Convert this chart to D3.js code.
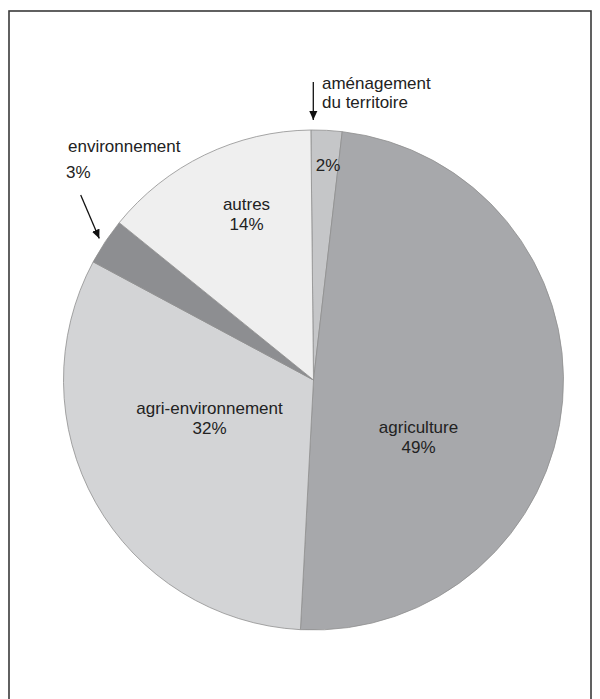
<!DOCTYPE html>
<html>
<head>
<meta charset="utf-8">
<script src="https://cdnjs.cloudflare.com/ajax/libs/d3/7.8.5/d3.min.js"></script>
<style>
  html, body { margin: 0; padding: 0; background: #fff; }
  svg { display: block; }
</style>
</head>
<body>
<div id="chart"></div>
<script>
// data, clockwise from 12 o'clock
var categories = ['aménagement du territoire', 'agriculture', 'agri-environnement', 'environnement', 'autres'];
var shares = [2, 49, 32, 3, 14];
var shareLabels = ['2%', '49%', '32%', '3%', '14%'];
var fills = ['#c5c6c8', '#a7a8ab', '#d3d4d6', '#8d8e91', '#efefef'];

var width = 600, height = 699;
var cx = 313.5, cy = 380, radius = 250;
var start = -0.6 * Math.PI / 180;

var svg = d3.select('#chart')
  .append('svg')
    .attr('width', width)
    .attr('height', height)
    .attr('font-family', '"Liberation Sans", Arial, Helvetica, sans-serif')
    .attr('font-size', 17)
    .attr('fill', '#222');

// frame, open at the bottom like the scan
svg.append('rect')
  .attr('x', 9).attr('y', 11)
  .attr('width', 582).attr('height', 720)
  .attr('fill', 'none')
  .attr('stroke', '#3a3a3a')
  .attr('stroke-width', 1.6);

var pie = d3.pie()
  .sort(null)
  .value(function(d) { return d; })
  .startAngle(start)
  .endAngle(start + 2 * Math.PI);

var arc = d3.arc().innerRadius(0).outerRadius(radius);

var g = svg.append('g').attr('transform', 'translate(' + cx + ',' + cy + ')');

g.selectAll('path')
  .data(pie(shares))
  .enter().append('path')
    .attr('d', arc)
    .attr('fill', function(d, i) { return fills[i]; })
    .attr('stroke', '#8f8f8f')
    .attr('stroke-width', 0.8)
    .attr('stroke-linejoin', 'round');

// labels inside the slices (offsets from pie center)
var inside = [
  { i: 0, lines: [shareLabels[0]], dx: 14.5, dy: 171 - cy },
  { i: 1, lines: ['agriculture', shareLabels[1]], dx: 105, dy: 433 - cy },
  { i: 2, lines: ['agri-environnement', shareLabels[2]], dx: -104, dy: 414 - cy },
  { i: 4, lines: ['autres', shareLabels[4]], dx: -67, dy: 210 - cy }
];

inside.forEach(function(l) {
  var t = g.append('text')
    .attr('text-anchor', 'middle')
    .attr('x', l.dx)
    .attr('y', l.dy);
  l.lines.forEach(function(s, k) {
    t.append('tspan')
      .attr('x', l.dx)
      .attr('dy', k === 0 ? 0 : 19.5)
      .text(s);
  });
});

// callouts outside
var words = categories[0].split(' ');
var top1 = svg.append('text').attr('x', 322).attr('y', 89);
top1.append('tspan').attr('x', 322).text(words[0]);
top1.append('tspan').attr('x', 322).attr('dy', 18.5).text(words.slice(1).join(' '));

svg.append('text').attr('x', 68).attr('y', 152).text(categories[3]);
svg.append('text').attr('x', 66).attr('y', 178).text(shareLabels[3]);

svg.append('defs').append('marker')
    .attr('id', 'head')
    .attr('viewBox', '0 0 10 10')
    .attr('refX', 10).attr('refY', 5)
    .attr('markerWidth', 9).attr('markerHeight', 9)
    .attr('markerUnits', 'userSpaceOnUse')
    .attr('orient', 'auto')
  .append('path')
    .attr('d', 'M0,0.5 L10,5 L0,9.5 Z')
    .attr('fill', '#111');

svg.append('line')
  .attr('x1', 313.3).attr('y1', 82)
  .attr('x2', 313.3).attr('y2', 120)
  .attr('stroke', '#111').attr('stroke-width', 1.3)
  .attr('marker-end', 'url(#head)');

svg.append('line')
  .attr('x1', 80.7).attr('y1', 195)
  .attr('x2', 99.3).attr('y2', 238.5)
  .attr('stroke', '#111').attr('stroke-width', 1.3)
  .attr('marker-end', 'url(#head)');
</script>
</body>
</html>
